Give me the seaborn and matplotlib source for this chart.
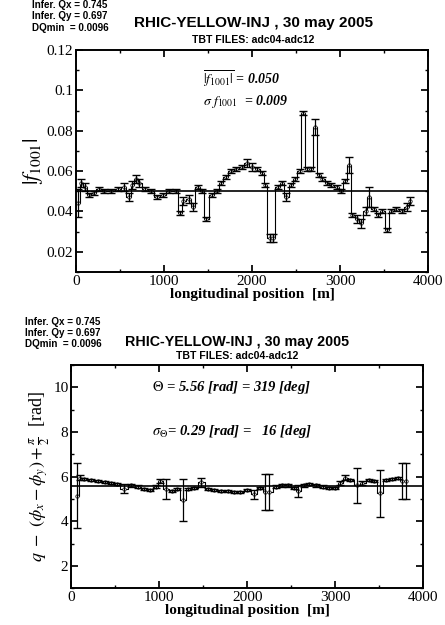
"""
Coupling coefficient |f1001| and coupling phase along RHIC yellow ring.
"""

import matplotlib
matplotlib.use('Agg')
import matplotlib.pyplot as plt
import numpy as np
import pandas as pd
import seaborn as sns

# --- top panel: |f1001| per BPM
pos_f = [20, 60, 100, 150, 200, 260, 320, 400, 480, 540, 600, 640, 680, 720,
         780, 850, 920, 990, 1060, 1130, 1180, 1220, 1280, 1330, 1380, 1430,
         1480, 1540, 1600, 1650, 1700, 1760, 1820, 1880, 1940, 2000, 2060,
         2110, 2150, 2200, 2240, 2290, 2340, 2390, 2440, 2490, 2540, 2580,
         2620, 2670, 2720, 2760, 2800, 2850, 2900, 2960, 3010, 3060, 3100,
         3140, 3190, 3240, 3290, 3330, 3380, 3430, 3480, 3530, 3580, 3640,
         3700, 3760, 3800]
f1001 = [0.044, 0.054, 0.052, 0.048, 0.049, 0.051, 0.050, 0.050, 0.051, 0.052,
         0.047, 0.053, 0.056, 0.054, 0.051, 0.050, 0.047, 0.048, 0.050, 0.050,
         0.039, 0.045, 0.046, 0.042, 0.052, 0.050, 0.036, 0.048, 0.050, 0.054,
         0.057, 0.060, 0.061, 0.062, 0.064, 0.062, 0.061, 0.059, 0.053, 0.027,
         0.027, 0.052, 0.054, 0.047, 0.053, 0.056, 0.060, 0.089, 0.061, 0.061,
         0.082, 0.058, 0.056, 0.054, 0.053, 0.052, 0.050, 0.055, 0.063, 0.038,
         0.036, 0.034, 0.040, 0.047, 0.041, 0.038, 0.040, 0.031, 0.040, 0.041,
         0.040, 0.042, 0.045]
f1001_err = [0.007, 0.002, 0.002, 0.001, 0.001, 0.001, 0.001, 0.001, 0.001, 0.002,
             0.002, 0.002, 0.002, 0.002, 0.001, 0.001, 0.001, 0.001, 0.001, 0.001,
             0.001, 0.002, 0.002, 0.002, 0.001, 0.001, 0.001, 0.001, 0.001, 0.001,
             0.001, 0.001, 0.001, 0.001, 0.002, 0.002, 0.001, 0.001, 0.001, 0.002,
             0.002, 0.001, 0.001, 0.002, 0.001, 0.001, 0.001, 0.001, 0.001, 0.001,
             0.004, 0.001, 0.001, 0.001, 0.001, 0.001, 0.001, 0.001, 0.004, 0.001,
             0.002, 0.002, 0.002, 0.005, 0.001, 0.001, 0.001, 0.001, 0.001, 0.001,
             0.001, 0.002, 0.002]
f1001_mean = 0.050

# --- bottom panel: coupling phase per BPM
pos_q = [70, 100, 150, 220, 300, 380, 450, 520, 600, 680, 760, 830, 900, 960,
         1010, 1080, 1150, 1200, 1270, 1330, 1400, 1480, 1550, 1620, 1700,
         1780, 1850, 1920, 2000, 2080, 2150, 2200, 2250, 2330, 2400, 2460,
         2530, 2580, 2640, 2700, 2780, 2860, 2930, 3000, 3060, 3110, 3170,
         3250, 3310, 3380, 3440, 3510, 3580, 3650, 3710, 3760, 3800]
phase = [5.15, 5.95, 5.90, 5.85, 5.80, 5.75, 5.70, 5.65, 5.45, 5.60, 5.55,
         5.45, 5.40, 5.55, 5.80, 5.45, 5.35, 5.45, 4.95, 5.45, 5.50, 5.75,
         5.45, 5.40, 5.35, 5.35, 5.30, 5.30, 5.40, 5.20, 5.50, 5.30, 5.30,
         5.55, 5.60, 5.60, 5.50, 5.35, 5.60, 5.65, 5.60, 5.55, 5.50, 5.50,
         5.70, 5.95, 5.85, 5.60, 5.70, 5.85, 5.80, 5.25, 5.85, 5.90, 5.95,
         5.80, 5.80]
phase_err = [1.45, 0.10, 0.05, 0.05, 0.05, 0.05, 0.05, 0.05, 0.20, 0.05, 0.05,
             0.05, 0.05, 0.05, 0.10, 0.45, 0.05, 0.05, 0.95, 0.05, 0.05, 0.20,
             0.05, 0.05, 0.05, 0.05, 0.05, 0.05, 0.05, 0.20, 0.05, 0.80, 0.80,
             0.05, 0.05, 0.05, 0.05, 0.25, 0.05, 0.05, 0.05, 0.05, 0.05, 0.05,
             0.10, 0.10, 0.05, 0.80, 0.10, 0.05, 0.05, 1.05, 0.05, 0.05, 0.05,
             0.80, 0.80]
phase_mean = 5.56

header_lines = ['Infer. Qx = 0.745', 'Infer. Qy = 0.697', 'DQmin  = 0.0096']
title = 'RHIC-YELLOW-INJ , 30 may 2005'
subtitle = 'TBT FILES: adc04-adc12'

sns.set_theme(style='ticks', rc={
    'xtick.direction': 'in', 'ytick.direction': 'in',
    'xtick.top': True, 'ytick.right': True,
    'xtick.minor.visible': True, 'ytick.minor.visible': True,
    'xtick.major.size': 5, 'ytick.major.size': 5,
    'xtick.minor.size': 2.5, 'ytick.minor.size': 2.5,
    'axes.linewidth': 1.4,
    'axes.edgecolor': 'black', 'text.color': 'black',
    'axes.labelcolor': 'black', 'xtick.color': 'black', 'ytick.color': 'black',
})
plt.rcParams['font.family'] = ['Liberation Serif', 'DejaVu Serif']
plt.rcParams['mathtext.fontset'] = 'stix'

fig = plt.figure(figsize=(4.45, 6.25), dpi=100)
ax1 = fig.add_axes([0.171, 0.565, 0.791, 0.355])
ax2 = fig.add_axes([0.160, 0.059, 0.791, 0.357])


def draw_panel(ax, pos, vals, errs, mean):
    df = pd.DataFrame({'pos': pos, 'val': vals})
    sns.lineplot(data=df, x='pos', y='val', ax=ax, color='black', lw=0.8,
                 drawstyle='steps-mid', marker='o', markersize=2.5,
                 markerfacecolor='white', markeredgecolor='black',
                 markeredgewidth=0.5, estimator=None, sort=True)
    ax.errorbar(pos, vals, yerr=errs, fmt='none', ecolor='black',
                elinewidth=0.9, capsize=3, capthick=1.0)
    ax.axhline(mean, color='black', lw=1.2)
    ax.set_xlim(0, 4000)
    ax.set_xticks([0, 1000, 2000, 3000, 4000])
    ax.set_xticks(np.arange(0, 4001, 500), minor=True)
    ax.set_xlabel('longitudinal position  [m]', fontsize=11,
                  fontweight='bold', labelpad=0)
    ax.tick_params(labelsize=11, pad=2)


def draw_header(x_left, y_rows, title_x, title_y, sub_y, size):
    for line, yy in zip(header_lines, y_rows):
        fig.text(x_left, 1 - yy / 625, line, fontsize=7.1,
                 fontweight='bold', family='Liberation Sans', va='center')
    fig.text(title_x, 1 - title_y / 625, title, fontsize=size,
             fontweight='bold', family='Liberation Sans', ha='center',
             va='center')
    fig.text(title_x, 1 - sub_y / 625, subtitle, fontsize=7.6,
             fontweight='bold', family='Liberation Sans', ha='center',
             va='center')


# top panel
draw_panel(ax1, pos_f, f1001, f1001_err, f1001_mean)
ax1.set_ylim(0.01, 0.12)
ax1.set_yticks([0.02, 0.04, 0.06, 0.08, 0.1, 0.12])
ax1.set_yticklabels(['0.02', '0.04', '0.06', '0.08', '0.1', '0.12'])
ax1.set_yticks(np.arange(0.01, 0.121, 0.01), minor=True)
ax1.set_ylabel(r'$|f_{1001}|$', fontsize=16, labelpad=1)
ax1.text(1440, 0.1055, r'$\overline{|f_{1001}|}$ = 0.050', fontsize=10,
         fontweight='bold', fontstyle='italic', va='center')
ax1.text(1440, 0.0945, r'$\sigma\ f_{1001}$  = 0.009', fontsize=10,
         fontweight='bold', fontstyle='italic', va='center')
draw_header(0.072, [5, 16, 28], 0.569, 23, 40, 11)

# bottom panel
draw_panel(ax2, pos_q, phase, phase_err, phase_mean)
ax2.set_ylim(1, 11)
ax2.set_yticks([2, 4, 6, 8, 10])
ax2.set_yticks(np.arange(1, 11.01, 1), minor=True)
ax2.set_ylabel(r'$q\ -\ (\phi_x - \phi_y) + \frac{\pi}{2}$  [rad]',
               fontsize=13, labelpad=1)
ax2.text(920, 10, r'$\Theta$ = 5.56 [rad] = 319 [deg]', fontsize=10.5,
         fontweight='bold', fontstyle='italic', va='center')
ax2.text(920, 8, r'$\sigma_{\Theta}$= 0.29 [rad] =   16 [deg]', fontsize=10.5,
         fontweight='bold', fontstyle='italic', va='center')
draw_header(0.056, [322, 333, 344], 0.532, 342, 356, 10.3)

fig.savefig('out.png', dpi=100, facecolor='white')
